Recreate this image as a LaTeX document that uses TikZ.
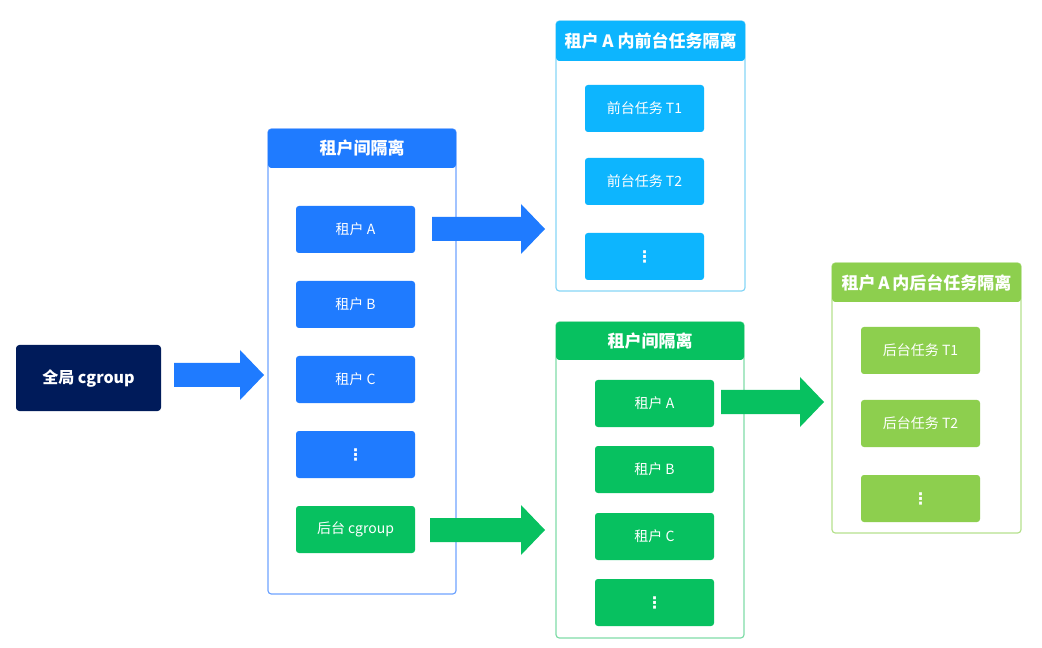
\documentclass[tikz,border=0pt]{standalone}
\usepackage{fontspec}
\setmainfont{Noto Sans CJK SC}
\newfontfamily\symfont{DejaVu Sans}
\definecolor{navy}{HTML}{001B5A}
\definecolor{tblue}{HTML}{1F7BFF}
\definecolor{tblueline}{HTML}{6FA4FF}
\definecolor{tcyan}{HTML}{0DB5FE}
\definecolor{tcyanline}{HTML}{86D6F6}
\definecolor{tgreen}{HTML}{07C160}
\definecolor{tgreenline}{HTML}{80DCA8}
\definecolor{tlime}{HTML}{8DCF4E}
\definecolor{tlimeline}{HTML}{B6E18E}
\newcommand{\vdotsym}{{\symfont\bfseries\fontsize{12}{12}\selectfont ⋮}}
% block arrow: colour, tail x, tip x, centre y (pixel units)
\newcommand{\blockarrow}[4]{%
  \fill[#1] (#2,#4-12) -- (#3-24,#4-12) -- (#3-24,#4-25) -- (#3,#4)
    -- (#3-24,#4+25) -- (#3-24,#4+12) -- (#2,#4+12) -- cycle;}
\tikzset{
  x=0.75pt, y=-0.75pt,
  item/.style={rounded corners=2.2pt, text=white, font=\fontsize{10.5}{12}\selectfont,
    minimum width=119*0.75pt, minimum height=47*0.75pt, inner sep=0pt},
  frame/.style={draw, line width=0.9pt, rounded corners=2.5pt, fill=white},
  headtext/.style={text=white, font=\bfseries\fontsize{12.75}{14}\selectfont, inner sep=0pt},
}
\begin{document}
\begin{tikzpicture}
\useasboundingbox (0,0) rectangle (1042,648);

% global cgroup
\node[rounded corners=2.5pt, fill=navy, text=white, font=\bfseries\fontsize{12}{14}\selectfont,
  minimum width=145*0.75pt, minimum height=66*0.75pt, inner sep=0pt] (global) at (88.5,378) {全局 cgroup};

% tenant isolation (blue)
\draw[frame, draw=tblueline] (268,129) rectangle (456,594);
\fill[tblue, rounded corners=2.5pt] (268,168) -- (268,129) -- (456,129) -- (456,168) -- cycle;
\node[headtext] (h1) at (362,148.5) {租户间隔离};
\node[item, fill=tblue] (ta) at (355.5,229.5) {租户 A};
\node[item, fill=tblue] (tb) at (355.5,304.5) {租户 B};
\node[item, fill=tblue] (tc) at (355.5,379.5) {租户 C};
\node[item, fill=tblue] (td) at (355.5,454.5) {\vdotsym};
\node[item, fill=tgreen] (bg) at (355.5,529.5) {后台 cgroup};

% foreground tasks of tenant A (cyan)
\draw[frame, draw=tcyanline] (556,21) rectangle (745,291);
\fill[tcyan, rounded corners=2.5pt] (556,61) -- (556,21) -- (745,21) -- (745,61) -- cycle;
\node[headtext] (h2) at (650.5,41) {租户 A 内前台任务隔离};
\node[item, fill=tcyan] (f1) at (644.5,108.5) {前台任务 T1};
\node[item, fill=tcyan] (f2) at (644.5,181.5) {前台任务 T2};
\node[item, fill=tcyan] (f3) at (644.5,256.5) {\vdotsym};

% tenant isolation inside background cgroup (green)
\draw[frame, draw=tgreenline] (556,322) rectangle (744,638);
\fill[tgreen, rounded corners=2.5pt] (556,360) -- (556,322) -- (744,322) -- (744,360) -- cycle;
\node[headtext] (h3) at (650,341) {租户间隔离};
\node[item, fill=tgreen] (ga) at (654.5,403.5) {租户 A};
\node[item, fill=tgreen] (gb) at (654.5,469.5) {租户 B};
\node[item, fill=tgreen] (gc) at (654.5,536.5) {租户 C};
\node[item, fill=tgreen] (gd) at (654.5,602.5) {\vdotsym};

% background tasks of tenant A (lime)
\draw[frame, draw=tlimeline] (832,263) rectangle (1021,533);
\fill[tlime, rounded corners=2.5pt] (832,302) -- (832,263) -- (1021,263) -- (1021,302) -- cycle;
\node[headtext] (h4) at (926.5,282.5) {租户\,A\,内后台任务隔离};
\node[item, fill=tlime] (k1) at (920.5,350.5) {后台任务 T1};
\node[item, fill=tlime] (k2) at (920.5,423.5) {后台任务 T2};
\node[item, fill=tlime] (k3) at (920.5,498.5) {\vdotsym};

% block arrows
\blockarrow{tblue}{174}{264}{375}
\blockarrow{tblue}{432}{545}{229}
\blockarrow{tgreen}{430}{545}{530}
\blockarrow{tgreen}{721}{824}{402}
\end{tikzpicture}
\end{document}
